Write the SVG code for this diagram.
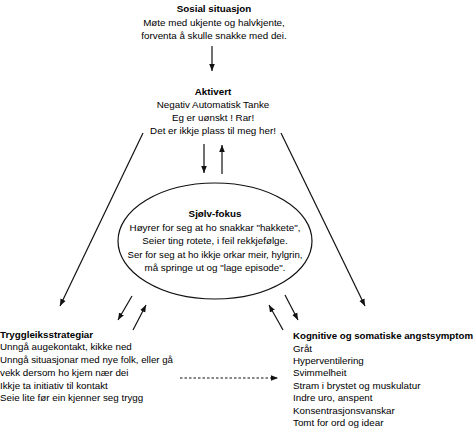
<svg xmlns="http://www.w3.org/2000/svg" width="474" height="429" viewBox="0 0 474 429">
<style>
text{font-family:"Liberation Sans",Arial,sans-serif;font-size:9.8px;fill:#000}
.b{font-weight:bold}
.c{text-anchor:middle}
.ln{stroke:#111;stroke-width:1.2;fill:none}
</style>
<defs>
<marker id="ah" viewBox="0 0 10 10" refX="10" refY="5" markerWidth="7" markerHeight="7" markerUnits="userSpaceOnUse" orient="auto"><path d="M0,1 L10,5 L0,9 z" fill="#111"/></marker>
</defs>
<rect width="474" height="429" fill="#fff"/>
<g id="sosial">
<text class="c b" x="214" y="12">Sosial situasjon</text>
<text class="c" x="214" y="25.5">Møte med ukjente og halvkjente,</text>
<text class="c" x="214" y="39">forventa å skulle snakke med dei.</text>
</g>
<g id="aktivert">
<text class="c b" x="213" y="95">Aktivert</text>
<text class="c" x="213" y="108">Negativ Automatisk Tanke</text>
<text class="c" x="213" y="121">Eg er uønskt ! Rar!</text>
<text class="c" x="213" y="134">Det er ikkje plass til meg her!</text>
</g>
<g id="sjolvfokus">
<ellipse cx="215" cy="241" rx="97" ry="58" class="ln"/>
<text class="c b" x="215" y="217">Sjølv-fokus</text>
<text class="c" x="215" y="230.5">Høyrer for seg at ho snakkar "hakkete",</text>
<text class="c" x="215" y="244">Seier ting rotete, i feil rekkjefølge.</text>
<text class="c" x="215" y="257.5" textLength="175" lengthAdjust="spacingAndGlyphs">Ser for seg at ho ikkje orkar meir, hylgrin,</text>
<text class="c" x="215" y="271">må springe ut og "lage episode".</text>
</g>
<g id="tryggleik">
<text class="b" x="0" y="337.5">Tryggleiksstrategiar</text>
<text x="0" y="350.3">Unngå augekontakt, kikke ned</text>
<text x="0" y="363" textLength="173" lengthAdjust="spacingAndGlyphs">Unngå situasjonar med nye folk, eller gå</text>
<text x="0" y="375.8">vekk dersom ho kjem nær dei</text>
<text x="0" y="388.6">Ikkje ta initiativ til kontakt</text>
<text x="0" y="401.4">Seie lite før ein kjenner seg trygg</text>
</g>
<g id="symptom">
<text class="b" x="293" y="339.2" textLength="180" lengthAdjust="spacingAndGlyphs">Kognitive og somatiske angstsymptom</text>
<text x="293" y="351.6">Gråt</text>
<text x="293" y="364">Hyperventilering</text>
<text x="293" y="376.4">Svimmelheit</text>
<text x="293" y="388.8">Stram i brystet og muskulatur</text>
<text x="293" y="401.2">Indre uro, anspent</text>
<text x="293" y="413.6">Konsentrasjonsvanskar</text>
<text x="293" y="426">Tomt for ord og idear</text>
</g>
<g id="connectors">
<line class="ln" x1="212" y1="46" x2="212" y2="71" marker-end="url(#ah)"/>
<line class="ln" x1="204" y1="144" x2="204" y2="173" marker-end="url(#ah)"/>
<line class="ln" x1="222" y1="174" x2="222" y2="145" marker-end="url(#ah)"/>
<line class="ln" x1="143" y1="133" x2="60" y2="306" marker-end="url(#ah)"/>
<line class="ln" x1="281" y1="133" x2="365" y2="306" marker-end="url(#ah)"/>
<line class="ln" x1="132" y1="296" x2="118" y2="320" marker-end="url(#ah)"/>
<line class="ln" x1="133" y1="330" x2="146" y2="305" marker-end="url(#ah)"/>
<line class="ln" x1="283" y1="330" x2="269" y2="305" marker-end="url(#ah)"/>
<line class="ln" x1="285" y1="295" x2="298" y2="320" marker-end="url(#ah)"/>
<line class="ln" x1="180" y1="378" x2="278" y2="378" stroke-dasharray="2.5,2" marker-end="url(#ah)"/>
</g>
</svg>
